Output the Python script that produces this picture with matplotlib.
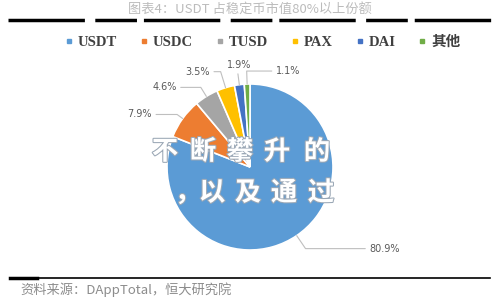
import numpy as np
import matplotlib
matplotlib.use("Agg")
from matplotlib import pyplot as plt
from matplotlib import patheffects as pe
from matplotlib.lines import Line2D

plt.rcParams['font.family'] = ['Noto Sans CJK SC', 'DejaVu Sans']

labels = ['USDT', 'USDC', 'TUSD', 'PAX', 'DAI', '其他']
shares = [80.9, 7.9, 4.6, 3.5, 1.9, 1.1]
colors = ['#5B9BD5', '#ED7D31', '#A5A5A5', '#FFC000', '#4472C4', '#70AD47']
title = '图表4：USDT 占稳定币市值80%以上份额'
source = '资料来源：DAppTotal，恒大研究院'
overlay_1 = '不断攀升的'
overlay_2 = '，以及通过'

# label text offsets from wedge edge point, in pixels (dx right, dy up)
label_offsets = [(88, -13), (-43, 4), (-42, 9), (-28, 16), (0, 20), (41, 13)]
# x centres of the overlay characters, in pixels
overlay_x1 = [165, 203, 240, 277, 317]
overlay_x2 = [188, 212, 248, 284, 321]

H = 300


def py(y):
    # pixel row (from top) to data y
    return H - y


fig = plt.figure(figsize=(5, 3), dpi=100)
ax = fig.add_axes([0, 0, 1, 1])

cx, cy, r = 250, py(167), 83
wedges, _ = ax.pie(shares, colors=colors, startangle=90, counterclock=False,
                   center=(cx, cy), radius=r,
                   wedgeprops=dict(edgecolor='white', linewidth=1.2))
ax.set_xlim(0, 500)
ax.set_ylim(0, 300)
ax.set_aspect('equal')
ax.axis('off')

for w, s, (dx, dy) in zip(wedges, shares, label_offsets):
    mid_deg = (w.theta1 + w.theta2) / 2
    mid = np.deg2rad(mid_deg)
    ex, ey = cx + r * np.cos(mid), cy + r * np.sin(mid)
    ax.annotate(f'{s:.1f}%', xy=(ex, ey), xytext=(ex + dx, ey + dy),
                ha='center', va='center', fontsize=7, color='#595959',
                family='DejaVu Sans',
                arrowprops=dict(arrowstyle='-', color='#bfbfbf', lw=0.8,
                                shrinkA=1, shrinkB=0,
                                connectionstyle=f'angle,angleA=0,angleB={mid_deg:.1f},rad=0'))

# title and top rule
ax.text(250, py(10), title, ha='center', va='center', fontsize=9.5,
        color='#bcbcbc')
ax.plot([8, 492], [py(20), py(20)], color='black', lw=2.5,
        dashes=(22, 3, 12, 2))

# legend
handles = [Line2D([], [], ls='', marker='s', markersize=3.5,
                  color=c) for c in colors]
leg = ax.legend(handles, labels, loc='center', bbox_to_anchor=(0.525, 1 - 42 / H),
                ncol=6, frameon=False, handlelength=0.6, handletextpad=0.3,
                columnspacing=1.55,
                prop={'family': ['Liberation Serif', 'Noto Sans CJK SC'],
                      'weight': 'bold', 'size': 10.5})
for t in leg.get_texts():
    t.set_color('#404040')

# overlay text, one character at a time
shadow = [pe.withStroke(linewidth=1.5, foreground='#9aa7b5')]
for x, ch in zip(overlay_x1, overlay_1):
    ax.text(x, py(152), ch, ha='center', va='center', fontsize=19,
            weight='bold', color='white', path_effects=shadow)
for x, ch in zip(overlay_x2, overlay_2):
    ax.text(x, py(193), ch, ha='center', va='center', fontsize=19,
            weight='bold', color='white', path_effects=shadow)

# bottom rule and source
ax.plot([10, 490], [py(278), py(278)], color='black', lw=1.2)
ax.plot([10, 37], [py(278), py(278)], color='black', lw=2.5)
ax.text(20, py(290), source, ha='left', va='center', fontsize=9.5,
        color='#8c8c8c')

fig.savefig('out.png', dpi=100)
